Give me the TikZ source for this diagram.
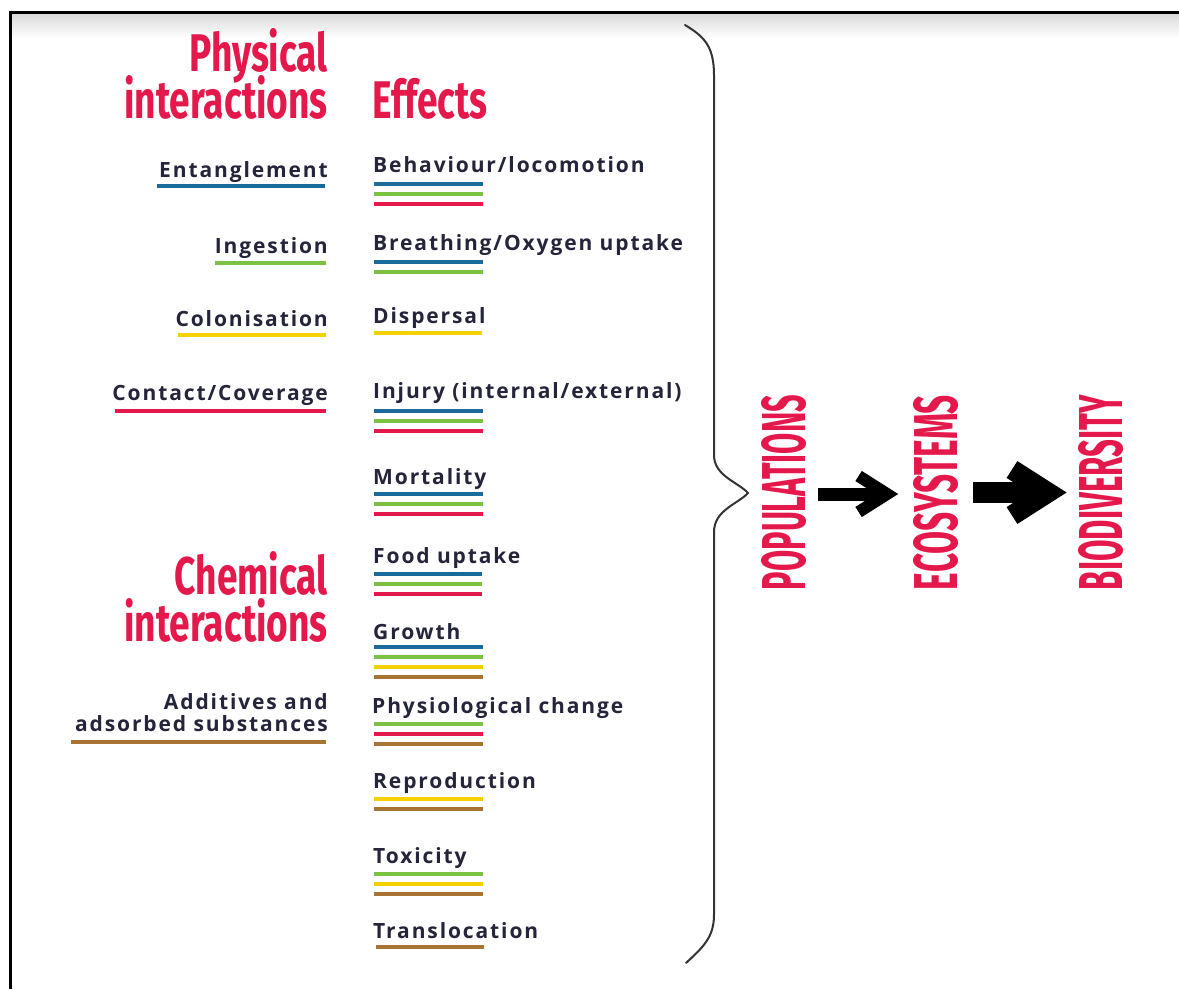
\documentclass[tikz,border=0pt]{standalone}
\usepackage{fontspec}
\setmainfont{Open Sans}
\newfontfamily\bodyfont[LetterSpace=9]{Open Sans}
\newfontfamily\hfont[FakeStretch=0.7]{Fira Sans}
\newfontfamily\vfont{Fira Sans}
\usetikzlibrary{shadings}
\definecolor{txt}{HTML}{24243A}
\definecolor{hred}{HTML}{E5184B}
\definecolor{cblue}{HTML}{1B6A9C}
\definecolor{cgreen}{HTML}{7CC242}
\definecolor{cred}{HTML}{E5184B}
\definecolor{cyel}{HTML}{F6D100}
\definecolor{cbrown}{HTML}{A87433}
\definecolor{brace}{HTML}{333333}
\newcommand{\vt}[1]{\resizebox{195pt}{44pt}{\vfont\bfseries #1}}
\newcommand{\tightlines}{\lineskiplimit=-60pt\relax\lineskip=0pt\relax}
\newcommand{\headfont}{\hfont\bfseries\fontsize{53}{46.5}\selectfont\tightlines}
\newcommand{\labfont}{\bodyfont\bfseries\fontsize{21}{22}\selectfont}
\tikzset{
  lab/.style={font=\labfont, text=txt, inner sep=0pt},
  lleft/.style={lab, anchor=base east},
  lright/.style={lab, anchor=base west},
  head/.style={text=hred, inner sep=0pt, align=right, font=\headfont},
  ul/.style={line width=4pt},
  vhead/.style={text=hred, inner sep=0pt, rotate=90},
  bshaft/.style={line width=#1, black},
  bhead/.style={line width=#1, black, line join=miter, line cap=butt},
}
\newcommand{\uline}[4]{\draw[ul,#1] (#3,#2) -- (#4,#2);}
\begin{document}
\begin{tikzpicture}[x=1pt,y=-1pt]
\useasboundingbox (0,0) rectangle (1179,989);
\fill[white] (0,0) rectangle (1179,989);
% frame
\shade[top color=black!15, bottom color=white] (10,13) rectangle (1179,38);
\draw[line width=2.5pt] (10,12.5) -- (1179,12.5);
\draw[line width=3pt] (10,11) -- (10,989);

% headings
\node[head, anchor=base east] (phys) at (328,118) {Physical\\interactions};
\node[head, anchor=base west, align=left] (eff) at (372,118) {Effects};
\node[head, anchor=base east] (chem) at (328,641) {Chemical\\interactions};

% left labels
\node[lleft] (ent) at (328,177) {Entanglement};
\uline{cblue}{186}{157}{325}
\node[lleft] (ing) at (328,253) {Ingestion};
\uline{cgreen}{263}{215}{326}
\node[lleft] (col) at (328,326) {Colonisation};
\uline{cyel}{335}{178}{326}
\node[lleft] (con) at (328,400) {Contact/Coverage};
\uline{cred}{411}{115}{326}
\node[lleft, align=right] (add) at (328,731) {Additives and\\adsorbed substances};
\uline{cbrown}{742}{71}{326}

% effects
\node[lright] (beh) at (373,172) {Behaviour/locomotion};
\uline{cblue}{184}{374}{483}
\uline{cgreen}{194}{374}{483}
\uline{cred}{204}{374}{483}
\node[lright] (bre) at (373,250) {Breathing/Oxygen uptake};
\uline{cblue}{262}{374}{483}
\uline{cgreen}{272}{374}{483}
\node[lright] (dis) at (373,323) {Dispersal};
\uline{cyel}{333}{374}{482}
\node[lright] (inj) at (373,398) {Injury (internal/external)};
\uline{cblue}{411}{374}{483}
\uline{cgreen}{421}{374}{483}
\uline{cred}{431}{374}{483}
\node[lright] (mor) at (373,484) {Mortality};
\uline{cblue}{494}{374}{483}
\uline{cgreen}{504}{374}{483}
\uline{cred}{514}{374}{483}
\node[lright] (foo) at (373,563) {Food uptake};
\uline{cblue}{574}{374}{482}
\uline{cgreen}{584}{374}{482}
\uline{cred}{594}{374}{482}
\node[lright] (gro) at (373,639) {Growth};
\uline{cblue}{647}{374}{483}
\uline{cgreen}{657}{374}{483}
\uline{cyel}{667}{374}{483}
\uline{cbrown}{677}{374}{483}
\node[lright] (phy) at (372,713) {Physiological change};
\uline{cgreen}{724}{374}{483}
\uline{cred}{734}{374}{483}
\uline{cbrown}{744}{374}{483}
\node[lright] (rep) at (373,788) {Reproduction};
\uline{cyel}{799}{374}{483}
\uline{cbrown}{809}{374}{483}
\node[lright] (tox) at (373,863) {Toxicity};
\uline{cgreen}{874}{374}{483}
\uline{cyel}{884}{374}{483}
\uline{cbrown}{894}{374}{483}
\node[lright] (tra) at (373,938) {Translocation};
\uline{cbrown}{947}{376}{484}

% brace
\draw[brace, line width=2pt, line cap=round]
  (685,25) .. controls (703,36) and (714,45) .. (714,75)
  -- (714,455) .. controls (714,476) and (738,482) .. (748,493)
  .. controls (738,504) and (714,510) .. (714,532)
  -- (714,915) .. controls (714,938) and (702,948) .. (686,963);

% vertical words
\node[vhead] (pop) at (784,492.5) {\vt{POPULATIONS}};
\node[vhead] (eco) at (936.5,492.5) {\vt{ECOSYSTEMS}};
\node[vhead] (bio) at (1101.5,492.5) {\vt{BIODIVERSITY}};

% block arrows
\coordinate (a1s) at (818,494);
\coordinate (a1e) at (887,494);
\draw[bshaft=13pt] (a1s) -- (a1e);
\draw[bhead=12pt] (858.6,476) -- (a1e) -- (858.6,512);
\coordinate (a2s) at (973,492.5);
\coordinate (a2e) at (1048,492.5);
\draw[bshaft=21pt] (a2s) -- (a2e);
\draw[bhead=20pt] (1012,469.5) -- (a2e) -- (1012,515.5);
\end{tikzpicture}
\end{document}
